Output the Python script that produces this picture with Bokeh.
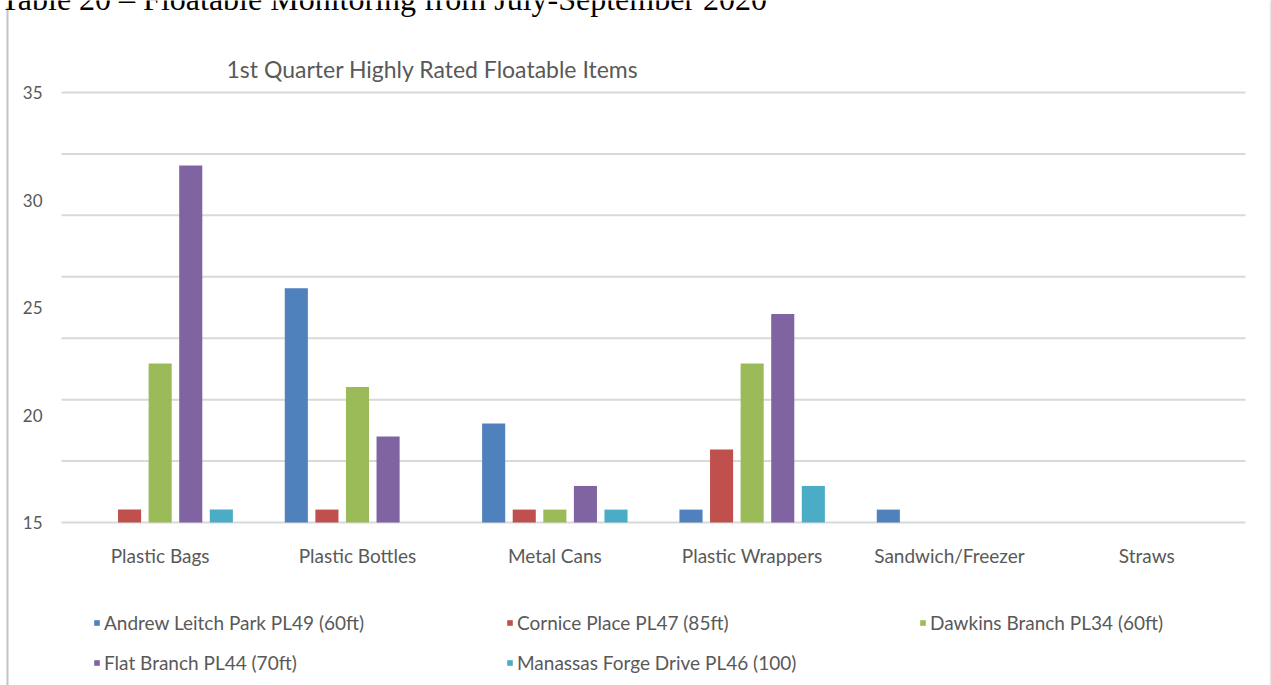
import numpy as np
from bokeh.plotting import figure
from bokeh.models import (ColumnDataSource, Range1d, FixedTicker, LinearAxis,
                          Legend, LegendItem, Label, BoxAnnotation)
from bokeh.transform import dodge
from bokeh.embed import file_html
from bokeh.resources import INLINE

# --- data -------------------------------------------------------------
categories = ["Plastic Bags", "Plastic Bottles", "Metal Cans",
              "Plastic Wrappers", "Sandwich/Freezer", "Straws"]

series_names = ["Andrew Leitch Park PL49 (60ft)", "Cornice Place PL47 (85ft)",
                "Dawkins Branch PL34 (60ft)", "Flat Branch PL44 (70ft)",
                "Manassas Forge Drive PL46 (100)"]

andrew_leitch = [None, 25.9, 19.6, 15.6, 15.6, None]
cornice_place = [15.6, 15.6, 15.6, 18.4, None, None]
dawkins_branch = [22.4, 21.3, 15.6, 22.4, None, None]
flat_branch = [31.6, 19.0, 16.7, 24.7, None, None]
manassas_forge = [15.6, None, 15.6, 16.7, None, None]

y_ticks = [15, 20, 25, 30, 35]

# --- styling ----------------------------------------------------------
FONT = "Lato"
TEXT = "#595959"
GRID = "#d9d9d9"
colors = ["#4f81bd", "#c0504d", "#9bbb59", "#8064a2", "#4bacc6"]
offsets = [-0.31, -0.155, 0.0, 0.155, 0.31]
bar_width = 0.117

W, H = 1271, 685
# plot-area placement on the page (pixels)
PA_LEFT, PA_RIGHT, PA_TOP, PA_BOTTOM = 61, 1245, 92, 522
y_lo, y_hi = y_ticks[0], y_ticks[-1]
n_cat = len(categories)
px_per_x = (PA_RIGHT - PA_LEFT) / n_cat
px_per_y = (PA_BOTTOM - PA_TOP) / (y_hi - y_lo)

# the frame fills the whole page so that the surrounding texts share it
x_range = Range1d(-PA_LEFT / px_per_x, n_cat + (W - PA_RIGHT) / px_per_x)
y_range = Range1d(y_lo - (H - PA_BOTTOM) / px_per_y, y_hi + PA_TOP / px_per_y)

p = figure(width=W, height=H, x_range=x_range, y_range=y_range,
           output_backend="svg", toolbar_location=None,
           x_axis_location=None, y_axis_location=None,
           min_border=0)
p.background_fill_color = "white"
p.border_fill_color = "white"
p.outline_line_color = None
p.xgrid.visible = False
p.ygrid.visible = False

# table cell borders
p.add_layout(BoxAnnotation(left=6, right=8, bottom=0, top=H - 7,
                           left_units="screen", right_units="screen",
                           bottom_units="screen", top_units="screen",
                           fill_color="#c4c4c4", fill_alpha=1,
                           line_color=None))
p.add_layout(BoxAnnotation(left=W - 2, right=W, bottom=0, top=H,
                           left_units="screen", right_units="screen",
                           bottom_units="screen", top_units="screen",
                           fill_color="#ececec", fill_alpha=1,
                           line_color=None))

# horizontal gridlines: eight evenly spaced lines across the value range
grid_y = list(np.linspace(y_lo, y_hi, 8))
p.segment(x0=0, x1=n_cat, y0=grid_y, y1=grid_y, line_color=GRID,
          line_width=2)

positions = [i + 0.5 for i in range(n_cat)]
all_series = [andrew_leitch, cornice_place, dawkins_branch,
              flat_branch, manassas_forge]
items = []
for name, vals, col, off in zip(series_names, all_series, colors, offsets):
    pos = [x for x, v in zip(positions, vals) if v is not None]
    tops = [v for v in vals if v is not None]
    src = ColumnDataSource(dict(pos=pos, top=tops))
    r = p.vbar(x=dodge("pos", off), top="top", bottom=y_lo,
               width=bar_width, source=src, fill_color=col, line_color=None)
    items.append(LegendItem(label=name, renderers=[r]))

# value axis
yaxis = LinearAxis(fixed_location=0, ticker=FixedTicker(ticks=y_ticks))
yaxis.axis_line_color = None
yaxis.major_tick_line_color = None
yaxis.minor_tick_line_color = None
yaxis.major_tick_out = 0
yaxis.major_tick_in = 0
yaxis.major_label_standoff = 19
yaxis.major_label_text_font = FONT
yaxis.major_label_text_font_size = "17px"
yaxis.major_label_text_color = TEXT
p.add_layout(yaxis, "left")

# category axis
xaxis = LinearAxis(fixed_location=y_lo, ticker=FixedTicker(ticks=positions),
                   major_label_overrides={x: c for x, c in zip(positions, categories)})
xaxis.axis_line_color = None
xaxis.major_tick_line_color = None
xaxis.minor_tick_line_color = None
xaxis.major_tick_out = 0
xaxis.major_tick_in = 0
xaxis.major_label_standoff = 21
xaxis.major_label_text_font = FONT
xaxis.major_label_text_font_size = "19px"
xaxis.major_label_text_color = TEXT
p.add_layout(xaxis, "below")

# legend below the plot area, three columns
legend = Legend(items=items, orientation="horizontal", ncols=3,
                location=(93, 11), glyph_width=7, glyph_height=7,
                label_standoff=4, label_width=385, label_height=23,
                spacing=17, padding=0, margin=0,
                border_line_color=None, background_fill_alpha=0,
                label_text_font=FONT, label_text_font_size="19px",
                label_text_color=TEXT)
p.add_layout(legend, "center")

# chart title
p.add_layout(Label(x=226, y=H - 68, x_units="screen", y_units="screen",
                   text="1st Quarter Highly Rated Floatable Items",
                   text_font=FONT, text_font_size="23px", text_color=TEXT,
                   text_baseline="middle", text_align="left"))

# caption line of the surrounding document
p.add_layout(Label(x=0, y=H + 2, x_units="screen", y_units="screen",
                   text="Table 20 \u2013 Floatable Monitoring from July-September 2020",
                   text_font="Liberation Serif", text_font_size="32px",
                   text_color="black", text_baseline="alphabetic",
                   text_align="left"))

open("out.html", "w").write(file_html(p, INLINE))
